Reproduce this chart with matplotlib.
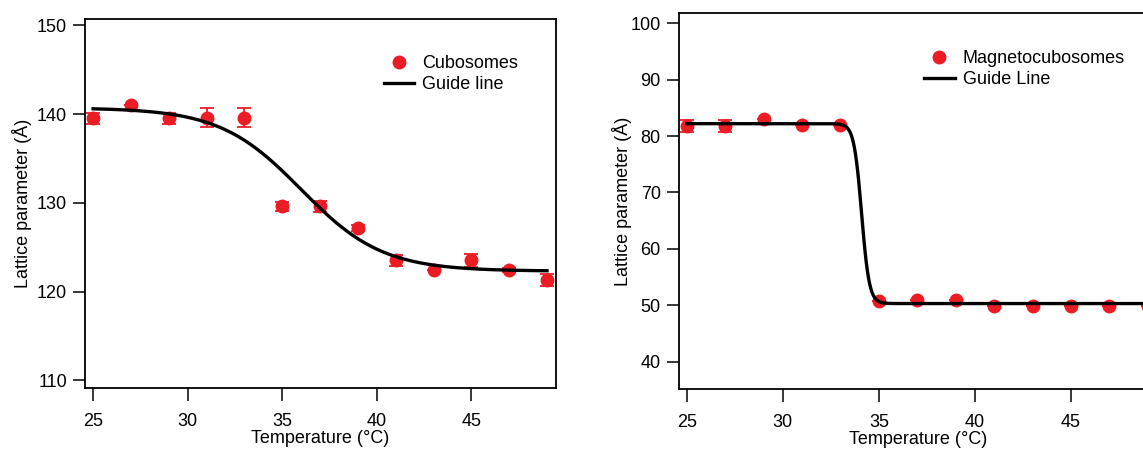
import matplotlib.pyplot as plt
import numpy as np

plt.rcParams['font.family'] = ['Liberation Sans', 'DejaVu Sans']
plt.rcParams['font.size'] = 13

RED = '#ec1c24'

# temperature steps (deg C)
temp = [25, 27, 29, 31, 33, 35, 37, 39, 41, 43, 45, 47, 49]

# cubosomes: lattice parameter (A) and error
cubo = [139.5, 141.0, 139.5, 139.6, 139.6, 129.6, 129.6, 127.2, 123.5, 122.4, 123.5, 122.4, 121.3]
cubo_err = [0.6, 0.0, 0.6, 1.1, 1.1, 0.5, 0.6, 0.35, 0.6, 0.0, 0.75, 0.2, 0.7]

# magnetocubosomes
magneto = [81.8, 81.8, 83.0, 82.0, 81.9, 50.8, 51.0, 51.0, 49.9, 49.9, 49.9, 49.9, 49.9]
magneto_err = [1.1, 1.0, 0.0, 0.0, 0.0, 0.0, 0.0, 0.0, 0.0, 0.0, 0.0, 0.0, 0.0]

# Boltzmann guide lines: (upper plateau, lower plateau, midpoint, width)
cubo_guide = (140.7, 122.3, 36.0, 2.15)
magneto_guide = (82.2, 50.3, 34.1, 0.2)


def boltzmann(x, p):
    a1, a2, x0, dx = p
    return a2 + (a1 - a2) / (1 + np.exp((x - x0) / dx))


def style_axes(ax, ylabelpad):
    for s in ax.spines.values():
        s.set_linewidth(1.3)
    ax.tick_params(direction='out', length=9, width=1.1, labelsize=13)
    ax.tick_params(axis='x', pad=9)
    ax.tick_params(axis='y', pad=4)
    ax.set_xticks([25, 30, 35, 40, 45])
    ax.set_xlabel('Temperature (°C)', fontsize=13, labelpad=0)
    ax.set_ylabel('Lattice parameter (Å)', fontsize=13, labelpad=ylabelpad)


fig = plt.figure(figsize=(11.43, 4.49), dpi=100)
ax1 = fig.add_axes([0.07463, 0.13519, 0.41155, 0.82316])
ax2 = fig.add_axes([0.59379, 0.1343, 0.41820, 0.83608])

xs = np.linspace(25, 49, 400)
xs2 = np.linspace(25, 49.5, 400)

# left: cubosomes
ax1.errorbar(temp, cubo, yerr=cubo_err, fmt='none', ecolor=RED,
             elinewidth=1.3, capsize=5, capthick=1.3, zorder=2)
ax1.plot(temp, cubo, 'o', color=RED, ms=9, label='Cubosomes', zorder=3)
ax1.plot(xs, boltzmann(xs, cubo_guide), color='black', lw=2.4,
         label='Guide line', zorder=4)
ax1.set_xlim(24.59, 49.46)
ax1.set_ylim(109.1, 150.74)
ax1.set_yticks([110, 120, 130, 140, 150])
style_axes(ax1, 4)
ax1.legend(loc='upper left', bbox_to_anchor=(0.615, 0.926), frameon=False,
           borderpad=0, handlelength=1.7, handletextpad=0.45,
           labelspacing=0.22, fontsize=13)

# right: magnetocubosomes
ax2.errorbar(temp, magneto, yerr=magneto_err, fmt='none', ecolor=RED,
             elinewidth=1.3, capsize=5, capthick=1.3, zorder=2)
ax2.plot(temp, magneto, 'o', color=RED, ms=9, label='Magnetocubosomes',
         zorder=3)
ax2.plot(xs2, boltzmann(xs2, magneto_guide), color='black', lw=2.4,
         label='Guide Line', zorder=4)
ax2.set_xlim(24.58, 49.46)
ax2.set_ylim(35.2, 101.77)
ax2.set_yticks([40, 50, 60, 70, 80, 90, 100])
style_axes(ax2, -1)
ax2.legend(loc='upper left', bbox_to_anchor=(0.494, 0.926), frameon=False,
           borderpad=0, handlelength=1.7, handletextpad=0.45,
           labelspacing=0.22, fontsize=13)

fig.savefig('out.png', dpi=100)
